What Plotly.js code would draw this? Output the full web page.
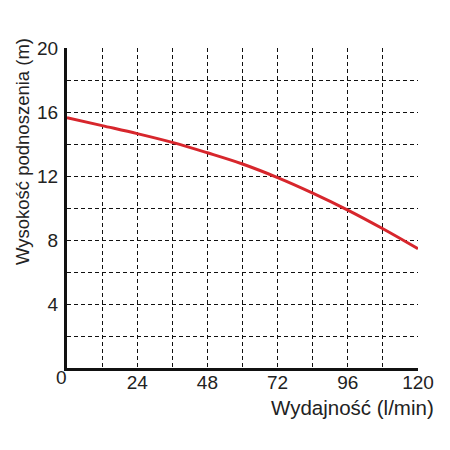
<!DOCTYPE html>
<html>
<head>
<meta charset="utf-8">
<script src="https://cdn.plot.ly/plotly-3.0.1.min.js"></script>
<style>
  html, body { margin: 0; padding: 0; background: #fff; }
  #chart { width: 450px; height: 450px; }
</style>
</head>
<body>
<div id="chart"></div>
<script>
// pump curve
const flow = [0, 12, 24, 36, 48, 60, 72, 84, 96, 108, 120];
const head = [15.65, 15.15, 14.65, 14.1, 13.45, 12.75, 11.9, 10.93, 9.87, 8.7, 7.45];

// tick labels (the shared "0" sits in the corner)
const xTicks = [24, 48, 72, 96, 120];
const yTicks = [4, 8, 12, 16, 20];
const originLabel = "0";

const xTitle = "Wydajność (l/min)";
const yTitle = "Wysokość podnoszenia (m)";

const gridStyle = { gridcolor: "#111", gridwidth: 1, griddash: "4px,3px" };

let data = [{
    x: flow,
    y: head,
    type: "scatter",
    mode: "lines",
    line: { color: "#d7262c", width: 3, shape: "spline", smoothing: 1 },
    hoverinfo: "skip"
}];

let layout = {
    width: 450,
    height: 450,
    margin: { t: 48, b: 82, l: 67, r: 32 },
    paper_bgcolor: "#fff",
    plot_bgcolor: "#fff",
    showlegend: false,
    font: { family: "Liberation Sans, Arial, sans-serif", size: 19, color: "#222" },
    xaxis: {
        range: [0, 120],
        tickvals: xTicks,
        ticks: "",
        showgrid: true,
        ...gridStyle,
        minor: { dtick: 12, tick0: 0, showgrid: true, ...gridStyle },
        showline: true,
        linecolor: "#111",
        linewidth: 3,
        zeroline: false,
        ticklabelstandoff: -5
    },
    yaxis: {
        range: [0, 20],
        tickvals: yTicks,
        ticks: "",
        showgrid: true,
        ...gridStyle,
        minor: { dtick: 2, tick0: 0, showgrid: true, ...gridStyle },
        showline: true,
        linecolor: "#111",
        linewidth: 3,
        zeroline: false,
        ticklabelstandoff: 2
    },
    annotations: [
        {
            text: originLabel, showarrow: false,
            xref: "x", yref: "y", x: 0, y: 0,
            xanchor: "center", yanchor: "middle",
            xshift: -6, yshift: -9,
            font: { size: 19, color: "#222" }
        },
        {
            text: yTitle, textangle: -90, showarrow: false,
            xref: "paper", yref: "paper", x: -0.128, y: 0.675,
            xanchor: "center", yanchor: "middle",
            font: { size: 18.5, color: "#222" }
        },
        {
            text: xTitle, showarrow: false,
            xref: "paper", yref: "paper", x: 1.05, y: -0.122,
            xanchor: "right", yanchor: "middle",
            font: { size: 20.5, color: "#222" }
        }
    ]
};

Plotly.newPlot("chart", data, layout, { displayModeBar: false, staticPlot: true });
</script>
</body>
</html>
